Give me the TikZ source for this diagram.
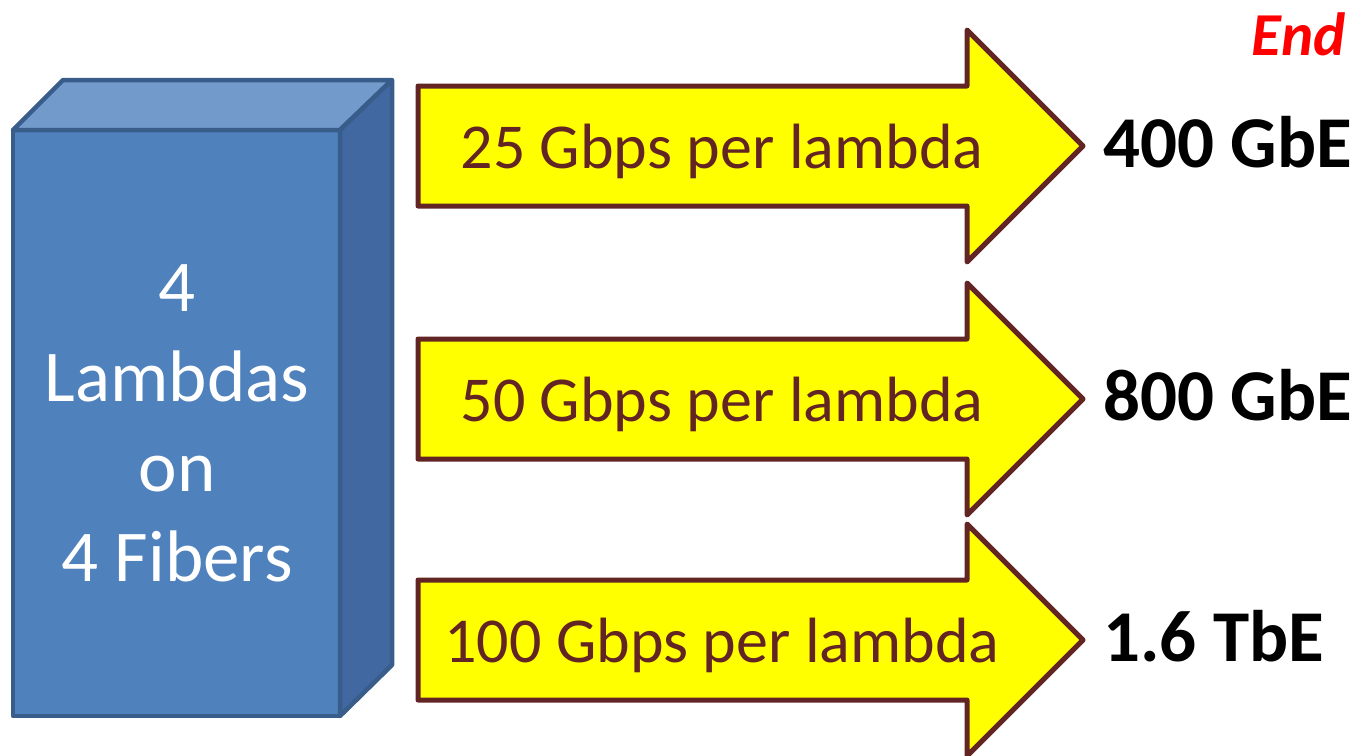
\documentclass[tikz,border=0pt]{standalone}
\usepackage{fontspec}
\setmainfont{Carlito}
\usetikzlibrary{positioning}
\definecolor{boxfront}{HTML}{4F81BD}
\definecolor{boxtop}{HTML}{729ACA}
\definecolor{boxside}{HTML}{4168A0}
\definecolor{boxedge}{HTML}{385D8A}
\definecolor{arrowedge}{HTML}{632523}
\definecolor{arrowfill}{HTML}{FFFF00}
\definecolor{endred}{HTML}{FF0000}

\begin{document}
\begin{tikzpicture}[x=1pt, y=-1pt,
            face/.style={draw=boxedge, line width=4.5pt, line join=round},
            fatarrow/.style={draw=arrowedge, fill=arrowfill, line width=5pt, line join=round},
            ratetext/.style={text=arrowedge, font=\fontsize{64}{64}\selectfont, inner sep=0pt, anchor=base},
            speedtext/.style={font=\bfseries\fontsize{73}{73}\selectfont, inner sep=0pt, anchor=base west}
        ]
            \useasboundingbox (0,0) rectangle (1359,755);
            % the block
            \draw[face, fill=boxfront] (13,130) rectangle (340,716);
            \draw[face, fill=boxtop] (13,130) -- (63,80) -- (392,80) -- (340,130) -- cycle;
            \draw[face, fill=boxside] (340,130) -- (392,80) -- (392,665) -- (340,716) -- cycle;
            \node[text=white, align=center, font=\fontsize{73}{90}\selectfont] (block) at (177,423) {4\\Lambdas\\on\\4 Fibers};
            % the three arrows
            \foreach \y/\name/\rate/\speed in {146/a1/25/400 GbE, 399/a2/50/800 GbE, 640/a3/100/1.6 TbE} {
                \draw[fatarrow] (418,{\y-60}) -- (967,{\y-60}) -- (967,{\y-116}) -- (1083,\y)
                    -- (967,{\y+116}) -- (967,{\y+60}) -- (418,{\y+60}) -- cycle;
                \node[ratetext] (\name) at (722,{\y+22}) {\rate{} Gbps per lambda};
                \node[speedtext] (\name speed) at (1103,{\y+21}) {\speed};
            }
            \node[text=endred, font=\bfseries\itshape\fontsize{61}{61}\selectfont, inner sep=0pt, anchor=base east] (endlabel) at (1346,55) {End};
        \end{tikzpicture}
\end{document}
